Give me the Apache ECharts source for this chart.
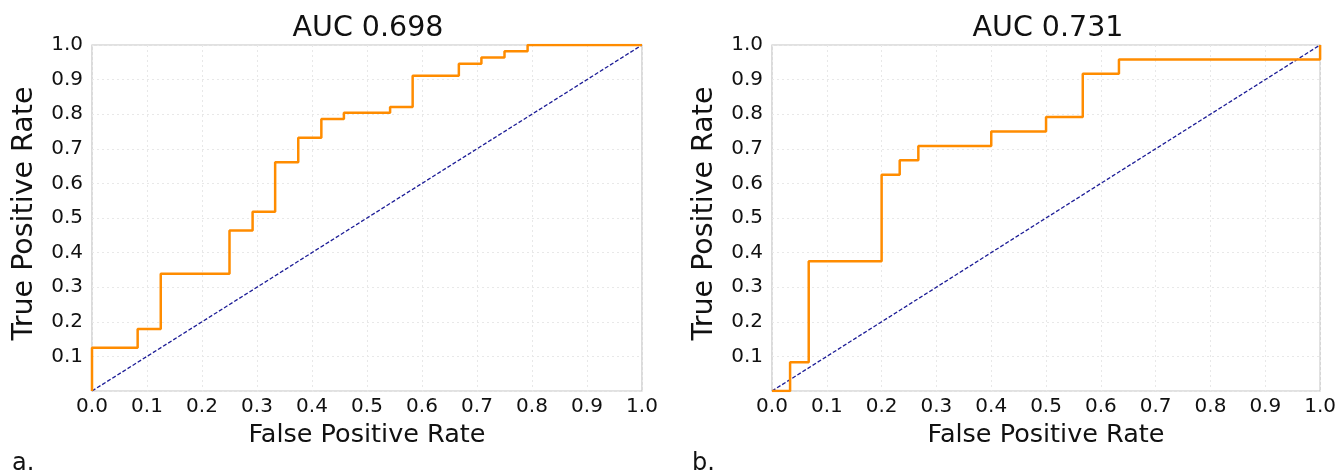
<!DOCTYPE html>
<html>
<head>
<meta charset="utf-8">
<script src="https://cdn.jsdelivr.net/npm/echarts@6/dist/echarts.min.js"></script>
<style>
html,body{margin:0;padding:0;background:#fff;}
#c{width:1339px;height:473px;}
</style>
</head>
<body>
<div id="c"></div>
<script>
// Panel a
var titleA = 'AUC 0.698';
var fprA = [0, 0, 0.083, 0.083, 0.125, 0.125, 0.25, 0.25, 0.292, 0.292, 0.333, 0.333, 0.375, 0.375, 0.417, 0.417, 0.458, 0.458, 0.542, 0.542, 0.583, 0.583, 0.667, 0.667, 0.708, 0.708, 0.75, 0.75, 0.792, 0.792, 1.0];
var tprA = [0, 0.125, 0.125, 0.179, 0.179, 0.339, 0.339, 0.464, 0.464, 0.518, 0.518, 0.661, 0.661, 0.732, 0.732, 0.786, 0.786, 0.804, 0.804, 0.821, 0.821, 0.911, 0.911, 0.946, 0.946, 0.964, 0.964, 0.982, 0.982, 1.0, 1.0];
// Panel b
var titleB = 'AUC 0.731';
var fprB = [0, 0.033, 0.033, 0.067, 0.067, 0.2, 0.2, 0.233, 0.233, 0.267, 0.267, 0.4, 0.4, 0.5, 0.5, 0.567, 0.567, 0.633, 0.633, 1.0, 1.0];
var tprB = [0, 0, 0.083, 0.083, 0.375, 0.375, 0.625, 0.625, 0.667, 0.667, 0.708, 0.708, 0.75, 0.75, 0.792, 0.792, 0.917, 0.917, 0.958, 0.958, 1.0];
// Chance diagonal
var diagX = [0, 1];
var diagY = [0, 1];
// Labels
var xName = 'False Positive Rate';
var yName = 'True Positive Rate';
var panelLabels = ['a.', 'b.'];

var FONT = 'DejaVu Sans';
function zip(xs, ys){ return xs.map(function(x,i){ return [x, ys[i]]; }); }

var grids = [
  {left: 92, top: 45, width: 550, height: 346},
  {left: 772, top: 45, width: 550, height: 346}
];

function xAxis(i){
  return {
    gridIndex: i, type: 'value', min: 0, max: 1, interval: 0.1,
    name: xName, nameLocation: 'middle', nameGap: 31,
    nameTextStyle: {fontFamily: FONT, fontSize: 25.5, color: '#111'},
    axisLine: {show: false}, axisTick: {show: false},
    axisLabel: {fontFamily: FONT, fontSize: 20, color: '#111', margin: 6,
      showMinLabel: true, showMaxLabel: true,
      formatter: function(v){ return v.toFixed(1); }},
    splitLine: {show: true, lineStyle: {color: '#e8e8e8', type: [2,3], width: 1}}
  };
}
function yAxis(i){
  return {
    gridIndex: i, type: 'value', min: 0, max: 1, interval: 0.1,
    name: yName, nameLocation: 'middle', nameGap: 53,
    nameTextStyle: {fontFamily: FONT, fontSize: 28.5, color: '#111', padding: [0, 0, 0, 9]},
    axisLine: {show: false}, axisTick: {show: false},
    axisLabel: {fontFamily: FONT, fontSize: 20, color: '#111', margin: 9,
      showMinLabel: true, showMaxLabel: true,
      formatter: function(v){ return v === 0 ? '' : v.toFixed(1); }},
    splitLine: {show: true, lineStyle: {color: '#e8e8e8', type: [2,3], width: 1}}
  };
}

var chart = echarts.init(document.getElementById('c'), null, {renderer: 'canvas'});
chart.setOption({
  animation: false,
  backgroundColor: '#fff',
  grid: grids.map(function(g){ return Object.assign({show: true, borderColor: '#c4c4c4', borderWidth: 1.2, backgroundColor: 'transparent'}, g); }),
  xAxis: [xAxis(0), xAxis(1)],
  yAxis: [yAxis(0), yAxis(1)],
  graphic: [
    {type: 'text', x: 368, y: 29, style: {text: titleA, fontFamily: FONT, fontSize: 28.5, fill: '#111', align: 'center', verticalAlign: 'middle'}},
    {type: 'text', x: 1048, y: 29, style: {text: titleB, fontFamily: FONT, fontSize: 28.5, fill: '#111', align: 'center', verticalAlign: 'middle'}},
    {type: 'text', x: 12, y: 464, style: {text: panelLabels[0], fontFamily: FONT, fontSize: 24, fill: '#111', align: 'left', verticalAlign: 'middle'}},
    {type: 'text', x: 692, y: 464, style: {text: panelLabels[1], fontFamily: FONT, fontSize: 24, fill: '#111', align: 'left', verticalAlign: 'middle'}}
  ],
  series: [
    {type: 'line', xAxisIndex: 0, yAxisIndex: 0, data: zip(diagX, diagY), symbol: 'none', silent: true,
      lineStyle: {color: '#1c1c96', width: 1.3, type: [4,2]}, z: 3},
    {type: 'line', xAxisIndex: 0, yAxisIndex: 0, data: zip(fprA, tprA), symbol: 'none', silent: true,
      lineStyle: {color: '#ff8c00', width: 2.5}, z: 4},
    {type: 'line', xAxisIndex: 1, yAxisIndex: 1, data: zip(diagX, diagY), symbol: 'none', silent: true,
      lineStyle: {color: '#1c1c96', width: 1.3, type: [4,2]}, z: 3},
    {type: 'line', xAxisIndex: 1, yAxisIndex: 1, data: zip(fprB, tprB), symbol: 'none', silent: true,
      lineStyle: {color: '#ff8c00', width: 2.5}, z: 4}
  ]
});
</script>
</body>
</html>
